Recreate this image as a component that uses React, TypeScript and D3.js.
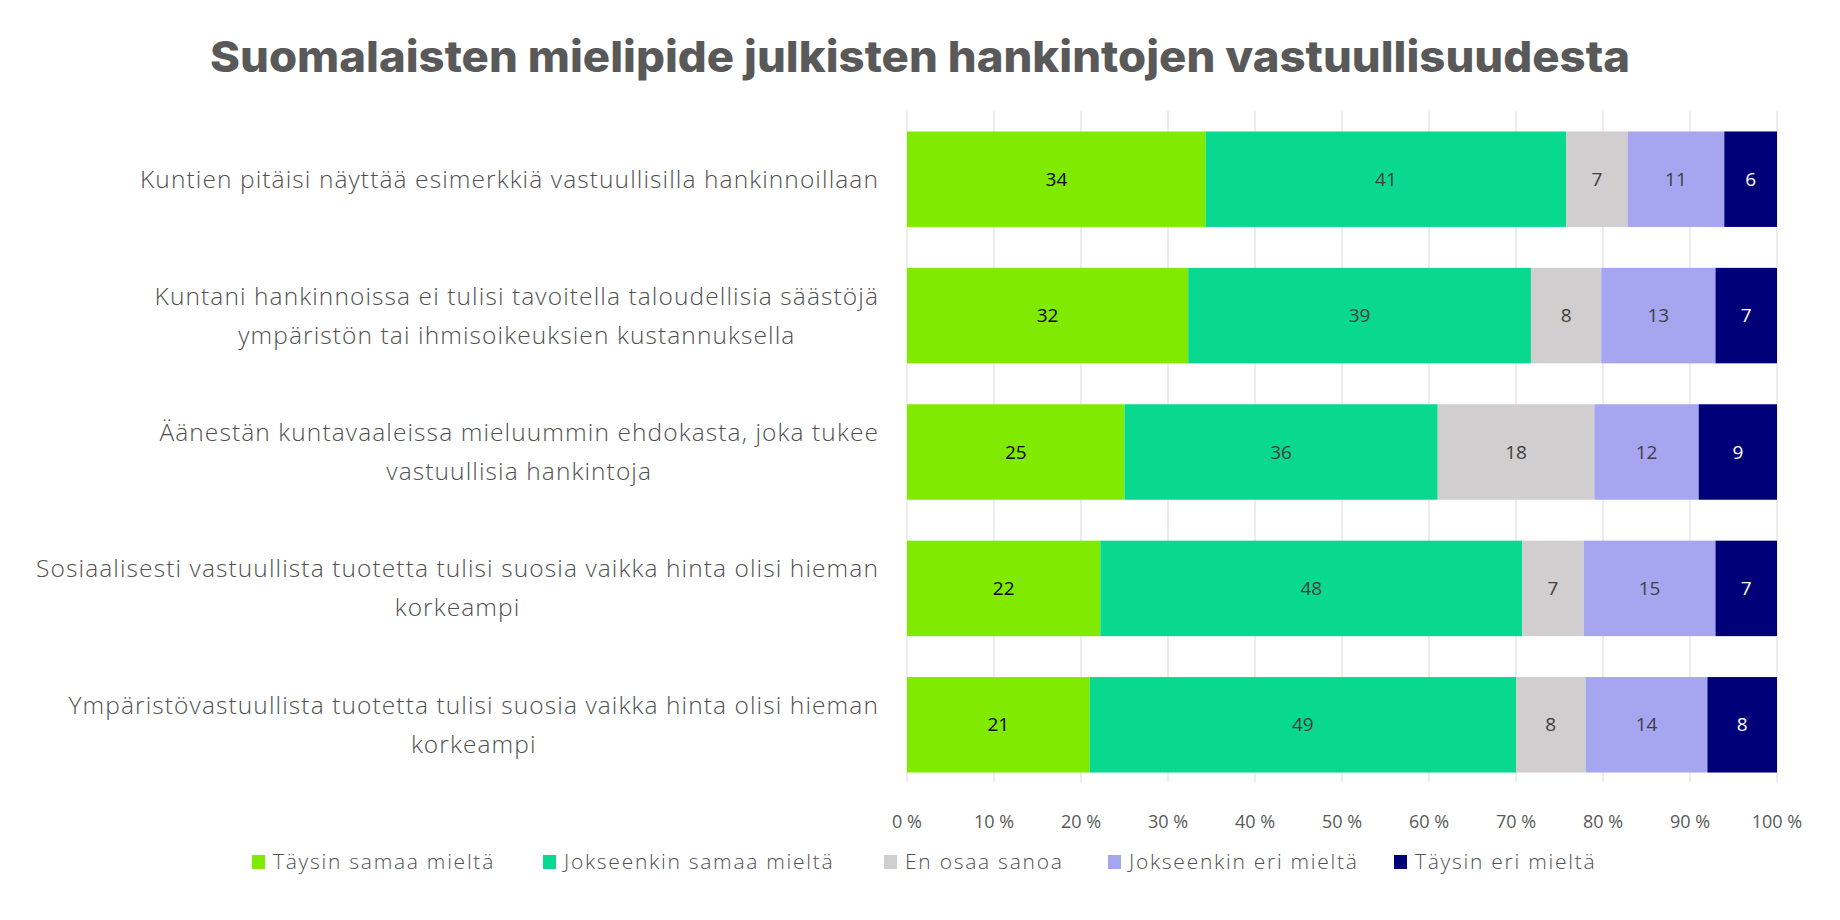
import React, { useEffect, useRef } from "react";
import * as d3 from "d3";

const title = "Suomalaisten mielipide julkisten hankintojen vastuullisuudesta";

const categories = [
  ["Kuntien pitäisi näyttää esimerkkiä vastuullisilla hankinnoillaan"],
  ["Kuntani hankinnoissa ei tulisi tavoitella taloudellisia säästöjä", "ympäristön tai ihmisoikeuksien kustannuksella"],
  ["Äänestän kuntavaaleissa mieluummin ehdokasta, joka tukee", "vastuullisia hankintoja"],
  ["Sosiaalisesti vastuullista tuotetta tulisi suosia vaikka hinta olisi hieman", "korkeampi"],
  ["Ympäristövastuullista tuotetta tulisi suosia vaikka hinta olisi hieman", "korkeampi"],
];

const seriesNames = [
  "Täysin samaa mieltä",
  "Jokseenkin samaa mieltä",
  "En osaa sanoa",
  "Jokseenkin eri mieltä",
  "Täysin eri mieltä",
];

const taysinSamaa = [34, 32, 25, 22, 21];
const jokseenkinSamaa = [41, 39, 36, 48, 49];
const enOsaa = [7, 8, 18, 7, 8];
const jokseenkinEri = [11, 13, 12, 15, 14];
const taysinEri = [6, 7, 9, 7, 8];

const seriesValues = [taysinSamaa, jokseenkinSamaa, enOsaa, jokseenkinEri, taysinEri];
const seriesColors = ["#80EB00", "#08D890", "#D0CECE", "#A6A6F0", "#000078"];
const labelColors = ["#000000", "#404040", "#404040", "#404040", "#FFFFFF"];
const xTicks = [0, 0.1, 0.2, 0.3, 0.4, 0.5, 0.6, 0.7, 0.8, 0.9, 1.0];

const W = 1840;
const H = 920;
const FONT = "'Open Sans', Lato, sans-serif";

export default function App() {
  const ref = useRef<SVGSVGElement | null>(null);

  useEffect(() => {
    const svg = d3.select(ref.current);
    svg.selectAll("*").remove();

    const x = d3.scaleLinear().domain([0, 1]).range([907, 1777]);
    const y = d3
      .scaleBand<number>()
      .domain(d3.range(categories.length))
      .range([111, 793])
      .paddingInner(0.3)
      .paddingOuter(0.15);

    // title
    svg
      .append("text")
      .attr("x", 920)
      .attr("y", 72)
      .attr("text-anchor", "middle")
      .attr("font-family", "Inter, 'Open Sans', sans-serif")
      .attr("font-weight", 800)
      .attr("font-size", 43)
      .attr("fill", "#595959")
      .attr("textLength", 1420)
      .attr("lengthAdjust", "spacingAndGlyphs")
      .text(title);

    // gridlines
    svg
      .append("g")
      .selectAll("line")
      .data(xTicks)
      .join("line")
      .attr("x1", (d) => x(d))
      .attr("x2", (d) => x(d))
      .attr("y1", 111)
      .attr("y2", 782)
      .attr("stroke", "#D9D9D9")
      .attr("stroke-width", 1);

    // tick labels
    svg
      .append("g")
      .selectAll("text")
      .data(xTicks)
      .join("text")
      .attr("x", (d) => x(d))
      .attr("y", 828)
      .attr("text-anchor", "middle")
      .attr("font-family", FONT)
      .attr("font-weight", 400)
      .attr("font-size", 18)
      .attr("fill", "#595959")
      .text((d) => `${Math.round(d * 100)} %`);

    // stacked bars (normalized to 100%)
    const totals = categories.map((_, i) => d3.sum(seriesValues, (s) => s[i]));
    const gBars = svg.append("g");
    categories.forEach((_, i) => {
      let acc = 0;
      seriesValues.forEach((s, k) => {
        const v = s[i];
        const x0 = x(acc / totals[i]);
        const x1 = x((acc + v) / totals[i]);
        acc += v;
        gBars
          .append("rect")
          .attr("x", x0)
          .attr("y", y(i)!)
          .attr("width", x1 - x0)
          .attr("height", y.bandwidth())
          .attr("fill", seriesColors[k]);
        gBars
          .append("text")
          .attr("x", (x0 + x1) / 2)
          .attr("y", y(i)! + y.bandwidth() / 2)
          .attr("dy", "0.35em")
          .attr("text-anchor", "middle")
          .attr("font-family", FONT)
          .attr("font-weight", 400)
          .attr("font-size", 19)
          .attr("fill", labelColors[k])
          .text(v);
      });
    });

    // calibrate letter spacing for a reference line width
    const calibrate = (str: string, size: number, target: number) => {
      const t = svg
        .append("text")
        .attr("font-family", FONT)
        .attr("font-weight", 300)
        .attr("font-size", size)
        .text(str);
      const w = (t.node() as SVGTextElement).getComputedTextLength();
      t.remove();
      return (target - w) / str.length;
    };

    // category labels
    const labelSize = 24.5;
    const labelSpacing = calibrate(categories[0][0], labelSize, 739);
    const rightEdge = 879;
    const lineH = 39;
    categories.forEach((lines, i) => {
      const cy = y(i)! + y.bandwidth() / 2;
      const g = svg.append("g");
      const texts = lines.map((ln, j) =>
        g
          .append("text")
          .attr("y", cy + (j - (lines.length - 1) / 2) * lineH)
          .attr("dy", "0.35em")
          .attr("text-anchor", "middle")
          .attr("font-family", FONT)
          .attr("font-weight", 300)
          .attr("font-size", labelSize)
          .attr("letter-spacing", labelSpacing)
          .attr("fill", "#505050")
          .text(ln)
      );
      const widths = texts.map((t) => (t.node() as SVGTextElement).getComputedTextLength());
      const maxW = d3.max(widths) || 0;
      texts.forEach((t) => t.attr("x", rightEdge - maxW / 2));
    });

    // legend
    const legendSize = 21;
    const legendSpacing = calibrate(seriesNames[0], legendSize, 222);
    const legendX = [252, 543, 884, 1108, 1394];
    const lg = svg.append("g");
    seriesNames.forEach((name, k) => {
      lg.append("rect")
        .attr("x", legendX[k])
        .attr("y", 855)
        .attr("width", 13)
        .attr("height", 14)
        .attr("fill", seriesColors[k]);
      lg.append("text")
        .attr("x", legendX[k] + 21)
        .attr("y", 862)
        .attr("dy", "0.35em")
        .attr("font-family", FONT)
        .attr("font-weight", 300)
        .attr("font-size", legendSize)
        .attr("letter-spacing", legendSpacing)
        .attr("fill", "#505050")
        .text(name);
    });
  }, []);

  return (
    <div style={{ position: "absolute", left: 0, top: 0 }}>
      <svg ref={ref} width={W} height={H} style={{ display: "block", background: "#fff" }} />
    </div>
  );
}
